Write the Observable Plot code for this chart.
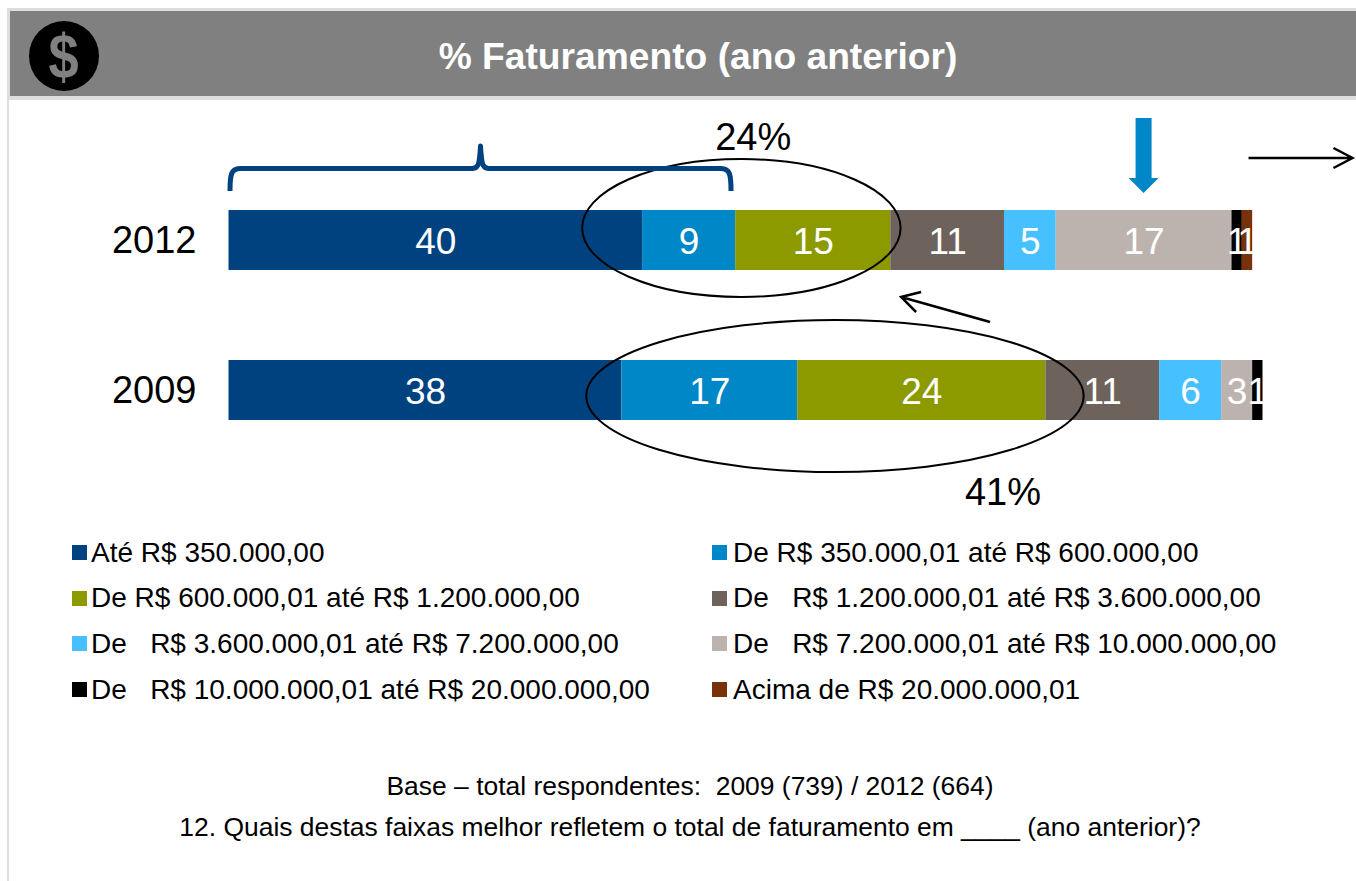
<!DOCTYPE html>
<html lang="pt">
<head>
<meta charset="utf-8">
<title>% Faturamento (ano anterior)</title>
<script src="https://cdn.jsdelivr.net/npm/d3@7"></script>
<script src="https://cdn.jsdelivr.net/npm/@observablehq/plot@0.6"></script>
<style>
  html, body { margin: 0; padding: 0; background: #fff; }
  body { width: 1356px; height: 881px; overflow: hidden; position: relative; font-family: "Liberation Sans", Arial, sans-serif; color: #000; }
  #frame-left { position: absolute; left: 7px; top: 8px; width: 2px; bottom: 0; background: #dedede; }
  #header { position: absolute; left: 7px; right: 0; top: 8px; height: 92px; box-sizing: border-box; background: #808080; border: 3px solid #dedede; border-right: 0; border-width: 3px 0 4px 3px; }
  #header h1 { position: absolute; left: 0; right: 0; top: 0; margin: 0; text-align: center; padding-left: 30px; font-size: 37.2px; line-height: 90px; font-weight: bold; color: #fff; }
  #logo { position: absolute; left: 19px; top: 9px; }
  #chart { position: absolute; left: 0; top: 100px; }
  #chart svg { display: block; }
  #legend { position: absolute; left: 72px; top: 530px; display: grid; grid-template-columns: 640px 600px; grid-auto-rows: 45.6px; font-size: 28px; }
  #legend .item { display: flex; align-items: center; white-space: pre; height: 45.6px; }
  #legend .sw { width: 15px; height: 15px; margin-right: 4px; flex: none; }
  #legend .item:nth-child(even) .sw { margin-right: 6px; }
  #footer { position: absolute; left: 0; top: 766px; width: 1380px; text-align: center; font-size: 26.45px; }
  #footer div { height: 41px; line-height: 41px; white-space: pre; }
</style>
</head>
<body>
<div id="frame-left"></div>
<div id="header">
  <svg id="logo" width="72" height="72" viewBox="0 0 72 72">
    <circle cx="35" cy="36" r="35" fill="#000"></circle>
    <text transform="translate(34.5,58) scale(0.86,1)" text-anchor="middle" font-family="Liberation Sans" font-weight="bold" font-size="63" fill="#808080">$</text>
  </svg>
  <h1 id="title"></h1>
</div>
<div id="chart"></div>
<div id="legend"></div>
<div id="footer"></div>
<script>
const chartTitle = "% Faturamento (ano anterior)";
const years = ["2012", "2009"];
const faixas = [
  "Até R$ 350.000,00",
  "De R$ 350.000,01 até R$ 600.000,00",
  "De R$ 600.000,01 até R$ 1.200.000,00",
  "De   R$ 1.200.000,01 até R$ 3.600.000,00",
  "De   R$ 3.600.000,01 até R$ 7.200.000,00",
  "De   R$ 7.200.000,01 até R$ 10.000.000,00",
  "De   R$ 10.000.000,01 até R$ 20.000.000,00",
  "Acima de R$ 20.000.000,01"
];
const colors = ["#00427F", "#0087C7", "#8C9A00", "#6E625D", "#46C0FF", "#BCB3AF", "#000000", "#783108"];
const values2012 = [40, 9, 15, 11, 5, 17, 1, 1];
const values2009 = [38, 17, 24, 11, 6, 3, 1, 0];
const callout2012 = [{year: "2012", total: "24%", at: 50.7}];
const callout2009 = [{year: "2009", total: "41%", at: 74.85}];
const footerLines = [
  "Base – total respondentes:  2009 (739) / 2012 (664)",
  "12. Quais destas faixas melhor refletem o total de faturamento em ____ (ano anterior)?"
];

document.getElementById("title").textContent = chartTitle;

const rows = [];
for (const [year, vals] of [["2012", values2012], ["2009", values2009]]) {
  vals.forEach((v, i) => { if (v > 0) rows.push({year, faixa: faixas[i], value: v}); });
}

function annotations(index, {x}) {
  const g = d3.create("svg:g").attr("fill", "none");
  const ellipse = (x1, x2, cy, ry) => g.append("ellipse")
    .attr("cx", (x(x1) + x(x2)) / 2).attr("rx", (x(x2) - x(x1)) / 2)
    .attr("cy", cy).attr("ry", ry)
    .attr("stroke", "#000").attr("stroke-width", 2);
  ellipse(34.2, 65, 128, 69);
  ellipse(34.6, 82.7, 296, 76);

  // chave sobre as três primeiras faixas de 2012
  const b0 = x(0) + 1.5, b1 = x(48.6), bm = (b0 + b1) / 2;
  g.append("path")
    .attr("d", `M${b0},91 C${b0},75 ${b0 + 1},68.5 ${b0 + 10},68.5 L${bm - 8},68.5 C${bm - 2},68.5 ${bm - 1},64 ${bm},46 C${bm + 1},64 ${bm + 2},68.5 ${bm + 8},68.5 L${b1 - 10},68.5 C${b1 - 1},68.5 ${b1},75 ${b1},91`)
    .attr("stroke", "#00427F").attr("stroke-width", 5).attr("stroke-linejoin", "round");

  // seta azul sobre o 17
  const a = x(88.5);
  g.append("path")
    .attr("d", `M${a - 8},18 H${a + 8} V78 H${a + 15} L${a},93 L${a - 15},78 H${a - 8} Z`)
    .attr("fill", "#0087C7");

  // setas pretas
  const tip = x(65.05), from = x(73.65);
  g.append("path")
    .attr("d", `M${from},222 L${tip},197 M${tip + 20},192 L${tip},197 L${tip + 15},212`)
    .attr("stroke", "#000").attr("stroke-width", 2.5);
  const r0 = x(98.65), r1 = x(108.7);
  g.append("path")
    .attr("d", `M${r0},58 H${r1} M${r1 - 19},48 L${r1},58 L${r1 - 19},68`)
    .attr("stroke", "#000").attr("stroke-width", 2.5);
  return g.node();
}

const plot = Plot.plot({
  width: 1356,
  height: 430,
  marginLeft: 228.5,
  marginRight: 93.5,
  marginTop: 65,
  marginBottom: 65,
  style: {fontFamily: "'Liberation Sans', Arial, sans-serif", background: "transparent", overflow: "visible"},
  x: {domain: [0, 100], axis: null},
  y: {domain: years, axis: null, paddingInner: 0.6, paddingOuter: 0.3},
  color: {domain: faixas, range: colors},
  marks: [
    Plot.barX(rows, Plot.stackX({x: "value", y: "year", fill: "faixa", order: null})),
    Plot.text(rows, Plot.stackX({x: "value", y: "year", text: d => String(d.value), fill: "#fff", fontSize: 37, dy: 2, order: null})),
    Plot.axisY({tickSize: 0, tickPadding: 32.5, fontSize: 38, label: null, color: "#000"}),
    annotations,
    Plot.text(callout2012, {x: "at", y: "year", dy: -103, text: "total", fontSize: 38, fill: "#000"}),
    Plot.text(callout2009, {x: "at", y: "year", dy: 102, text: "total", fontSize: 38, fill: "#000"})
  ]
});
document.getElementById("chart").appendChild(plot);

const legend = d3.select("#legend");
faixas.forEach((f, i) => {
  const item = legend.append("div").attr("class", "item");
  item.append("span").attr("class", "sw").style("background", colors[i]);
  item.append("span").text(f);
});
d3.select("#footer").selectAll("div").data(footerLines).join("div").text(d => d);
</script>
</body>
</html>
